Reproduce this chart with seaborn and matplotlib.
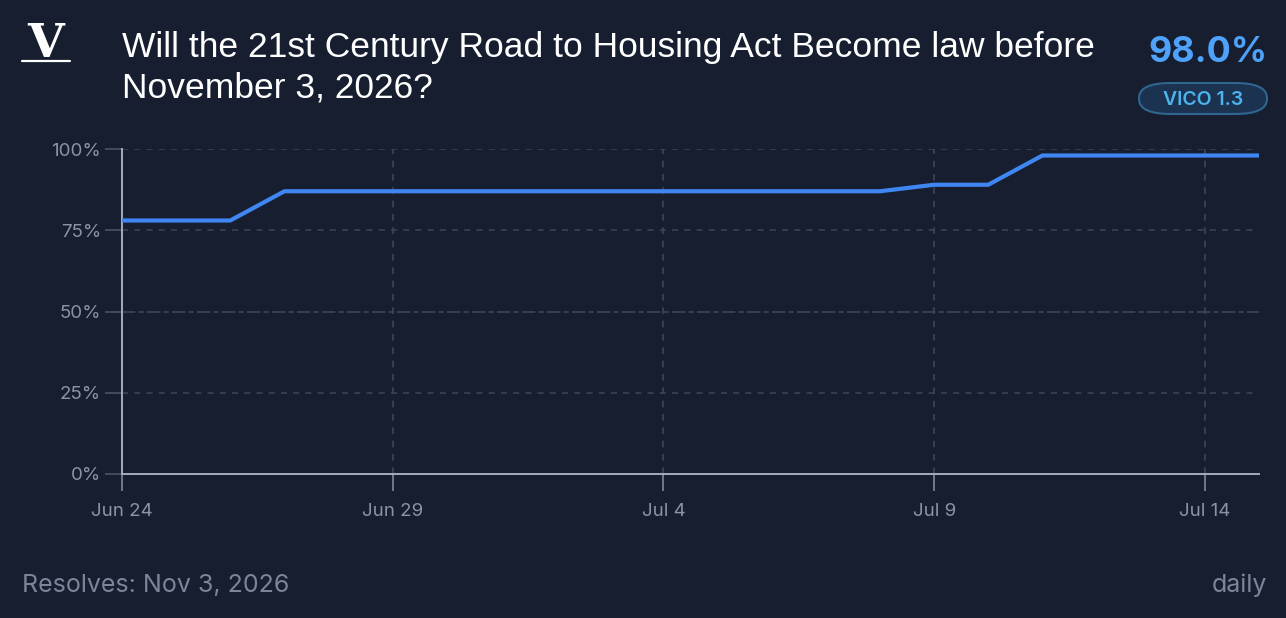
import numpy as np
import pandas as pd
import matplotlib
matplotlib.use("Agg")
import matplotlib.pyplot as plt
from matplotlib.patches import FancyBboxPatch
import seaborn as sns

# ── Data ────────────────────────────────────────────────
dates = pd.date_range("2026-06-24", "2026-07-15", freq="D")
prob = [78, 78, 78, 87, 87, 87, 87, 87, 87, 87, 87,
        87, 87, 87, 87, 89, 89, 98, 98, 98, 98, 98]
y_ticks = [0, 25, 50, 75, 100]
y_labels = ["0%", "25%", "50%", "75%", "100%"]
x_ticks = pd.to_datetime(["2026-06-24", "2026-06-29", "2026-07-04",
                          "2026-07-09", "2026-07-14"])
x_labels = ["Jun 24", "Jun 29", "Jul 4", "Jul 9", "Jul 14"]

title_lines = ["Will the 21st Century Road to Housing Act Become law before",
               "November 3, 2026?"]
current = "98.0%"
badge = "VICO 1.3"
footer_left = "Resolves: Nov 3, 2026"
footer_right = "daily"

# ── Style ───────────────────────────────────────────────
BG = "#161e2f"
GRID = "#3b4659"
SPINE = "#a3adbb"
TICKTXT = "#8a94a5"
LINE = "#3f86f2"

sns.set_theme(style="dark")
plt.rcParams["font.family"] = ["Inter", "DejaVu Sans"]

df = pd.DataFrame({"date": dates, "prob": prob})

W, H = 1286, 618
fig = plt.figure(figsize=(W / 100, H / 100), dpi=100, facecolor=BG)
ax = fig.add_axes([122 / W, 1 - 474 / H, (1259 - 122) / W, (474 - 149) / H])
ax.set_facecolor(BG)

# grid
for v in y_ticks[1:]:
    if v == 50:
        ax.axhline(v, color=GRID, lw=1.2, dashes=(8, 2, 3, 2), zorder=1)
    else:
        ax.axhline(v, color=GRID, lw=1.1, dashes=(4, 4), zorder=1)
for d in x_ticks[1:]:
    ax.axvline(d, color=GRID, lw=1.2, dashes=(4, 4), zorder=1)

sns.lineplot(data=df, x="date", y="prob", ax=ax, color=LINE, lw=3,
             solid_capstyle="round", solid_joinstyle="round", zorder=3)

ax.set_xlim(dates[0], dates[-1])
ax.set_ylim(0, 100)
ax.set_yticks(y_ticks)
ax.set_yticklabels(y_labels)
ax.set_xticks(x_ticks)
ax.set_xticklabels(x_labels)
ax.set_xlabel("")
ax.set_ylabel("")
ax.tick_params(axis="y", length=12, width=1.1, color="#4d5869",
               labelcolor=TICKTXT, labelsize=13.5, pad=3, left=True)
ax.tick_params(axis="x", length=12, width=1.4, color="#6f7a8b",
               labelcolor=TICKTXT, labelsize=13.5, pad=9, bottom=True)
for s in ["top", "right"]:
    ax.spines[s].set_visible(False)
for s in ["left", "bottom"]:
    ax.spines[s].set_color(SPINE)
    ax.spines[s].set_linewidth(1.4)

# ── Header ──────────────────────────────────────────────
fig.text(46 / W, 1 - 57 / H, "V", color="white", fontsize=34,
         fontweight="bold", family=["DejaVu Serif"],
         ha="center", va="baseline")
fig.add_artist(plt.Line2D([22 / W, 70 / W], [1 - 61 / H, 1 - 61 / H],
                          color="white", lw=1.6))

for i, line in enumerate(title_lines):
    fig.text(122 / W, 1 - (57 + 40 * i) / H, line, color="white", fontsize=25.5,
             family=["Liberation Sans", "DejaVu Sans"], ha="left", va="baseline")

fig.text(1267 / W, 1 - 62 / H, current, color="#4ea2fb", fontsize=25.8,
         fontweight="bold", ha="right", va="baseline")

bx, by, bw, bh = 1139 / W, 1 - 114 / H, 128 / W, 31 / H
fig.patches.append(FancyBboxPatch((bx, by), bw, bh, transform=fig.transFigure,
                                  boxstyle="round,pad=0,rounding_size=0.025",
                                  mutation_aspect=H / W * 2.0,
                                  facecolor="#1b3350", edgecolor="#2f6690", lw=1.5))
fig.text(bx + bw / 2, by + bh / 2 - 0.002, badge, color="#4cb4ec", fontsize=14,
         fontweight="semibold", ha="center", va="center")

# ── Footer ──────────────────────────────────────────────
fig.text(22 / W, 1 - 592 / H, footer_left, color="#7b8699", fontsize=18,
         ha="left", va="baseline")
fig.text(1267 / W, 1 - 592 / H, footer_right, color="#7b8699", fontsize=18,
         ha="right", va="baseline")

fig.savefig("out.png", dpi=100, facecolor=BG)
